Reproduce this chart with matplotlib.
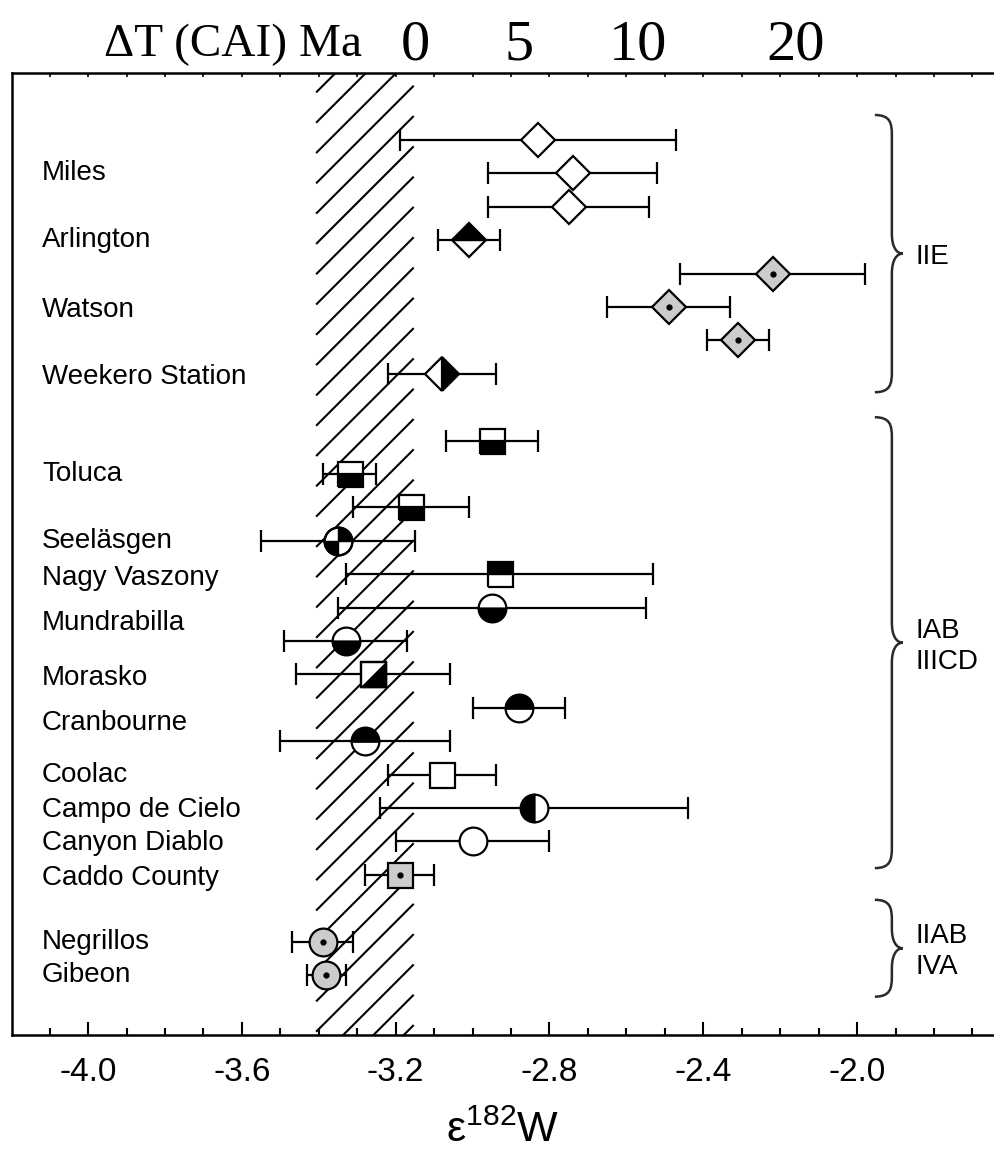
import matplotlib
matplotlib.use('Agg')
import matplotlib.pyplot as plt
import matplotlib.transforms as mtransforms
from matplotlib.path import Path
from matplotlib.patches import PathPatch
from matplotlib.ticker import MultipleLocator, FixedLocator

plt.rcParams['font.family'] = ['Liberation Sans', 'DejaVu Sans']

# epsilon 182W of iron meteorites (2 sigma), listed top to bottom
rows = [0, 1, 2, 3, 4, 5, 6, 7,
        9, 10, 11, 12, 13, 14, 15, 16, 17, 18, 19, 20, 21, 22,
        24, 25]
eps = [-2.83, -2.74, -2.75, -3.01, -2.22, -2.49, -2.31, -3.08,
       -2.95, -3.32, -3.16, -3.35, -2.93, -2.95, -3.33, -3.26, -2.88, -3.28,
       -3.08, -2.84, -3.00, -3.19,
       -3.39, -3.38]
err = [0.36, 0.22, 0.21, 0.08, 0.24, 0.16, 0.08, 0.14,
       0.12, 0.07, 0.15, 0.20, 0.40, 0.40, 0.16, 0.20, 0.12, 0.22,
       0.14, 0.40, 0.20, 0.09,
       0.08, 0.05]
# shape_fill: which half (or part) of the symbol is black
symbols = ['D_open', 'D_open', 'D_open', 'D_top', 'D_gray', 'D_gray', 'D_gray', 'D_right',
           's_bottom', 's_bottom', 's_bottom', 'o_quarter', 's_top', 'o_bottom', 'o_bottom',
           's_tri', 'o_top', 'o_top', 's_open', 'o_left', 'o_open', 's_gray',
           'o_gray', 'o_gray']

names = ['Miles', 'Arlington', 'Watson', 'Weekero Station', 'Toluca', 'Seeläsgen',
         'Nagy Vaszony', 'Mundrabilla', 'Morasko', 'Cranbourne', 'Coolac',
         'Campo de Cielo', 'Canyon Diablo', 'Caddo County', 'Negrillos', 'Gibeon']
name_rows = [1, 3, 5.1, 7.1, 10, 12, 13.1, 14.45, 16.1, 17.45, 19, 20.05, 21.05, 22.1, 24, 25]

groups = ['IIE', 'IAB\nIIICD', 'IIAB\nIVA']
group_spans = [(-0.75, 7.55), (8.3, 21.8), (22.75, 25.65)]

# CAI initial value band
cai_lo, cai_hi = -3.405, -3.155

# time after CAI formation on the upper scale
dt_labels = ['0', '5', '10', '20']
dt_pos = [-3.15, -2.88, -2.57, -2.16]

fig = plt.figure(figsize=(9.94, 11.63), dpi=100)
ax = fig.add_axes([0.012, 0.110, 0.988, 0.827])
ax.set_xlim(-4.198, -1.644)
ax.set_ylim(26.8, -2.0)
ax.autoscale(False)

for side in ['left', 'top', 'bottom']:
    ax.spines[side].set_linewidth(1.8)
ax.spines['right'].set_visible(False)
ax.set_yticks([])
ax.xaxis.set_major_locator(MultipleLocator(0.4))
ax.xaxis.set_minor_locator(MultipleLocator(0.1))
ax.xaxis.set_major_formatter(lambda v, p: f'{v:.1f}')
ax.tick_params(axis='x', which='major', direction='in', length=9.5, width=1.5,
               labelsize=24, pad=16)
ax.tick_params(axis='x', which='minor', direction='in', length=5, width=1.5)
ax.set_xlabel('ε$^{\\mathregular{182}}$W', fontsize=31, labelpad=16)

# upper scale: fine ticks plus the time labels
ax_top = ax.twiny()
ax_top.set_xlim(ax.get_xlim())
for s in ax_top.spines.values():
    s.set_visible(False)
ax_top.xaxis.set_major_locator(FixedLocator(dt_pos))
ax_top.set_xticklabels(dt_labels, family='Liberation Serif', fontsize=42)
ax_top.xaxis.set_minor_locator(MultipleLocator(0.1))
ax_top.tick_params(axis='x', which='major', length=0, pad=1)
ax_top.tick_params(axis='x', which='minor', direction='in', length=3, width=1.2)
fig.text(0.234, 0.952, 'ΔT (CAI) Ma', family='Liberation Serif', fontsize=34,
         ha='center', va='baseline')

# hatched band, 45 degree strokes in pixel space
x_l, y_b = ax.transData.transform((cai_lo, ax.get_ylim()[0]))
x_r, y_t = ax.transData.transform((cai_hi, ax.get_ylim()[1]))
run = x_r - x_l
spacing = 30.3
y0 = 1163 - 425
k = -40
while True:
    yk = y0 + k * spacing
    if yk > y_t:
        break
    if yk + run > y_b:
        ax.plot([x_l, x_r], [yk, yk + run], color='k', lw=1.5,
                transform=mtransforms.IdentityTransform(), zorder=1)
    k += 1

ax.errorbar(eps, rows, xerr=err, fmt='none', ecolor='k', elinewidth=1.6,
            capsize=8, capthick=1.6, zorder=3)

gray = '#cccccc'
tri = Path([(-0.5, -0.5), (0.5, -0.5), (0.5, 0.5), (-0.5, -0.5)],
           [Path.MOVETO, Path.LINETO, Path.LINETO, Path.CLOSEPOLY])
quarters = Path.make_compound_path(Path.wedge(0, 90), Path.wedge(180, 270))
sizes = {'D': 17.5, 's': 18, 'o': 20}
# black half -> (fillstyle, face, alt face)
halves = {'top': ('bottom', 'w', 'k'), 'bottom': ('bottom', 'k', 'w'),
          'left': ('left', 'k', 'w'), 'right': ('right', 'k', 'w')}


def draw_symbol(x, y, kind):
    shape, fill = kind.split('_')
    kw = dict(ls='none', marker=shape, ms=sizes[shape], mec='k', mew=1.6, zorder=5)
    if fill == 'open':
        ax.plot(x, y, mfc='w', **kw)
    elif fill == 'gray':
        ax.plot(x, y, mfc=gray, **kw)
        ax.plot(x, y, ls='none', marker='o', ms=3.5, mfc='k', mec='k', zorder=6)
    elif fill in halves:
        fs, face, alt = halves[fill]
        ax.plot(x, y, mfc=face, markerfacecoloralt=alt, fillstyle=fs, **kw)
    elif fill == 'tri':
        ax.plot(x, y, mfc='w', **kw)
        ax.plot(x, y, ls='none', marker=tri, ms=sizes[shape], mfc='k', mec='k',
                mew=1.0, zorder=6)
        ax.plot(x, y, mfc='none', **dict(kw, zorder=7))
    elif fill == 'quarter':
        ax.plot(x, y, mfc='w', **kw)
        ax.plot(x, y, ls='none', marker=quarters, ms=sizes[shape], mfc='k', mec='k',
                mew=1.0, zorder=6)
        ax.plot(x, y, mfc='none', **dict(kw, zorder=7))


for x, y, kind in zip(eps, rows, symbols):
    draw_symbol(x, y, kind)

side = mtransforms.blended_transform_factory(ax.transAxes, ax.transData)
for name, r in zip(names, name_rows):
    ax.text(0.0305, r, name, transform=side, ha='left', va='center', fontsize=20)


def brace(y0, y1, x=0.896, w=0.0173, tip=0.0112, c=0.6):
    ym = (y0 + y1) / 2
    verts = [(x - w, y0),
             (x - 0.1 * w, y0), (x, y0 + 0.4 * c), (x, y0 + c),
             (x, ym - c),
             (x, ym - 0.35 * c), (x + 0.4 * tip, ym), (x + tip, ym),
             (x + 0.4 * tip, ym), (x, ym + 0.35 * c), (x, ym + c),
             (x, y1 - c),
             (x, y1 - 0.4 * c), (x - 0.1 * w, y1), (x - w, y1)]
    codes = [Path.MOVETO,
             Path.CURVE4, Path.CURVE4, Path.CURVE4,
             Path.LINETO,
             Path.CURVE4, Path.CURVE4, Path.CURVE4,
             Path.CURVE4, Path.CURVE4, Path.CURVE4,
             Path.LINETO,
             Path.CURVE4, Path.CURVE4, Path.CURVE4]
    ax.add_patch(PathPatch(Path(verts, codes), transform=side, fc='none',
                           ec='#2a2a2a', lw=1.8, clip_on=False))
    return ym


for label, (g0, g1) in zip(groups, group_spans):
    ym = brace(g0, g1)
    ax.text(0.92, ym + 0.1, label, transform=side, ha='left', va='center',
            fontsize=20, linespacing=1.25)

fig.savefig('out.png', dpi=100)
